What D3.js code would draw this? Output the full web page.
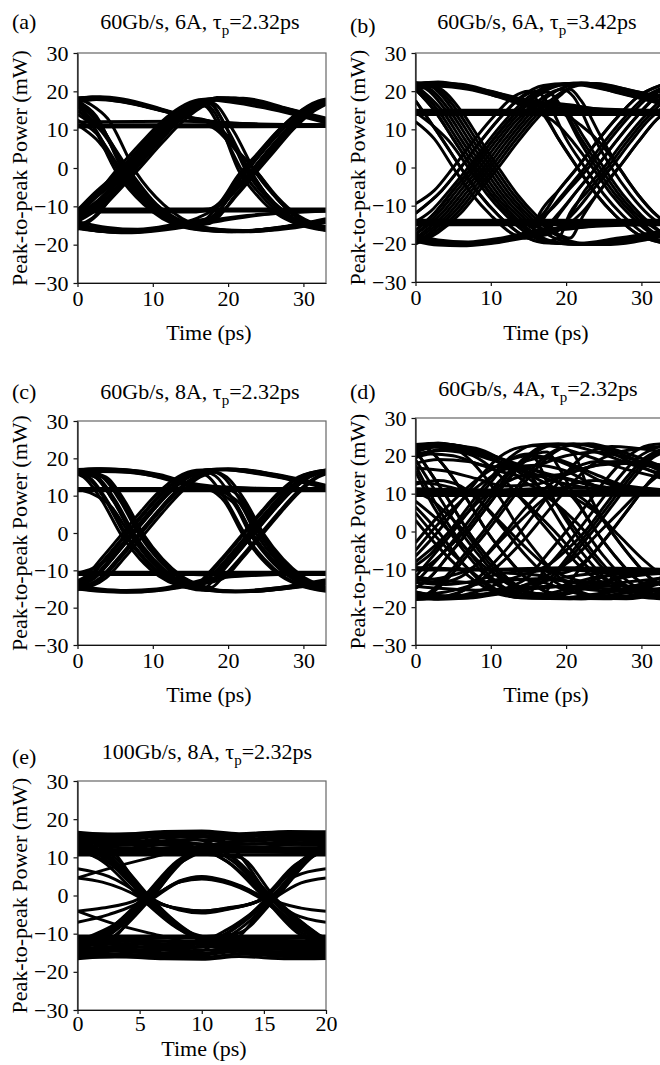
<!DOCTYPE html>
<html>
<head>
<meta charset="utf-8">
<script src="https://cdn.jsdelivr.net/npm/d3@7"></script>
<style>
  body { margin: 0; background: #fff; }
  svg { display: block; }
</style>
</head>
<body>
<script>
// eye-diagram traces, [time (ps), power (mW)] keypoints
const tracesA = [
  [[0, 11.3], [33, 11.3]],
  [[0, 10.7], [33, 10.8]],
  [[0, -10.7], [33, -10.7]],
  [[0, -11.3], [33, -11.2]],
  [[0, 17.9], [2, 18.4], [5, 17.8], [10, 15.6], [15, 13], [20, 11.8], [26, 11.3], [33, 11.1]],
  [[0, 17.2], [2.5, 17.9], [6, 17.3], [11, 15.1], [16, 12.5], [22, 11.4], [33, 11]],
  [[0, 18.3], [3, 18.6], [6, 18], [11, 15.5], [15, 13.2], [19, 11.8], [25, 11.2], [33, 11.2]],
  [[0, 17.6], [2.5, 18.2], [6, 17.6], [10.5, 15.6], [14.5, 13.3], [18, 12], [24, 11.5], [33, 11.3]],
  [[0, 18.1], [2, 18.5], [5, 18], [10, 15.8], [15, 13.2], [17.5, 12.2], [20, 8.2], [22.8, -0.5], [25, -6.7], [27.5, -11.5], [30, -14.5], [33, -16]],
  [[0, 17.5], [2.5, 18], [6, 17.2], [11, 15], [15.5, 12.8], [18.5, 11], [21, 5], [24, -1.5], [26.5, -8], [29, -12.5], [33, -15.5]],
  [[0, -12.7], [2.5, -9], [6.4, -1], [10, 6.9], [12.5, 12], [15, 15.8], [17.5, 18], [20, 18.1], [25, 16.3], [30, 13.6], [33, 12.3]],
  [[0, -14], [3.5, -9.5], [7.4, -1], [11, 7], [13.5, 12.2], [16, 15.8], [18.5, 18.4], [25, 16.7], [33, 12.7]],
  [[0, -11], [2, -7], [5.4, -1], [9, 7], [11.5, 12.2], [14, 15.5], [16.8, 17.8], [24, 16], [33, 11.8]],
  [[0, -12.5], [1.5, -9.5], [5, -1], [8.6, 6.9], [11.1, 12], [13.6, 15.8], [16.1, 17.8], [19, 18.2], [25, 16.2], [33, 12]],
  [[0, -15], [2, -13], [4, -9], [7.8, -1], [11.4, 6.9], [13.9, 12], [16.4, 15.8], [18.9, 18], [22, 18.2], [28, 15.5], [33, 13]],
  [[0, -16], [2.5, -12.5], [6.8, -1], [10.4, 6.9], [12.9, 12], [15.4, 15.8], [17.9, 18], [21, 18.2], [27, 15.8], [33, 12.5]],
  [[0, -13], [2.5, -9.5], [6.2, -1], [9.8, 6.9], [12.3, 12], [14.8, 15.8], [17.3, 17.8], [20, 18.3], [26, 16.2], [33, 12.4]],
  [[0, -13.8], [2.8, -10], [6.9, -1], [10.5, 6.9], [13, 12], [15.5, 15.8], [18, 17.8], [21, 18.2], [27, 15.8], [33, 12.6]],
  [[0, -12.5], [2.5, -8.8], [6.4, -1], [10, 6.9], [12.5, 12], [15, 15.8], [17.5, 16.8], [20, 9.8], [22.8, -0.8], [25, -6.7], [27.5, -11.5], [30, -14.5], [33, -16]],
  [[0, -13.5], [3.3, -8.8], [7.2, -1], [10.8, 7], [13.3, 12.2], [16, 16.5], [17.8, 17], [20.8, 9.4], [23.6, -1], [26, -7], [28.5, -12], [33, -15.8]],
  [[0, -11.5], [2, -7.5], [5.7, -1.3], [9.3, 6.6], [11.8, 11.8], [14.5, 15.5], [16.8, 16.2], [19.3, 9], [22, -1.2], [24.4, -7.2], [27, -12], [33, -16.2]],
  [[0, -12], [2, -8.5], [5.8, -1], [9.4, 7], [11.9, 12.2], [14.4, 15.8], [16.5, 17.5], [18.2, 14.5], [21.5, -1], [24, -7.5], [26.5, -12], [29, -14.5], [33, -16.3]],
  [[0, -13], [2.5, -9.5], [6.6, -1], [10.2, 6.9], [12.7, 12], [15.2, 15.8], [17.2, 17.5], [19.5, 11.5], [22.4, -0.8], [24.8, -7], [27.3, -11.8], [30, -14.7], [33, -16.2]],
  [[0, 17], [2.5, 12.9], [6.4, -1.2], [10, -9.5], [12.5, -13.2], [15, -15.3], [17.5, -16.2], [21, -16.6], [25, -16.3], [30, -14.7], [33, -13.8]],
  [[0, 16], [3, 10.5], [7.2, -1.5], [10.5, -9.5], [13, -13], [16, -15.2], [22, -16.4], [27, -15.4], [33, -13.2]],
  [[0, 15], [1.5, 12.5], [5.2, -1.2], [8.8, -9.5], [11.3, -13.2], [13.8, -15.3], [16.3, -16.2], [20, -16.6], [25, -16], [33, -13.5]],
  [[0, 18.2], [1.8, 16.5], [4, 12.9], [7.8, -1.2], [11.4, -9.5], [13.9, -13.2], [16.4, -15.3], [19, -16.2], [23, -16.6], [28, -15.8], [33, -14.2]],
  [[0, 12.5], [2.5, 9], [6, -1.2], [9.6, -9.5], [12.1, -13.2], [14.6, -15.3], [17.1, -16.2], [21, -16.5], [33, -13.5]],
  [[0, 16.5], [2.5, 12.5], [6.8, -1.2], [10.4, -9.5], [12.9, -13.2], [15.4, -15.3], [18, -16.2], [22, -16.6], [27, -15.8], [33, -13.8]],
  [[0, 14], [2, 11], [5.6, -1.2], [9.2, -9.5], [11.7, -13.2], [14.2, -15.3], [16.7, -16.2], [20.5, -16.6], [26, -15.8], [33, -13.5]],
  [[0, 17.3], [2.5, 13], [6.4, -1.2], [10, -9.5], [12.5, -13.2], [15, -15], [17.5, -14.5], [20, -8], [22.8, -1.5], [25, 3.8], [27.5, 9.4], [30, 14], [33, 17.6]],
  [[0, 15], [3.2, 9.5], [6.9, -1.5], [10.5, -9.8], [13, -13.2], [16, -14.8], [18.3, -13.5], [21, -7], [23.6, -1], [26, 4.5], [28.5, 10], [31, 14.5], [33, 16.8]],
  [[0, 17.5], [2.5, 13.5], [6, -0.5], [9.5, -9], [12, -12.8], [14.5, -14.5], [16.5, -14], [19, -9], [21.8, -1.5], [24, 3.8], [26.5, 9.4], [29, 14], [32, 17.5], [33, 18]],
  [[0, 11.3], [2.5, 7.5], [5.8, -1], [9, -8.5], [12.5, -13], [15, -14.8], [17.5, -15.8], [22, -16.3], [27, -15.5], [33, -13.5]],
  [[0, -10.8], [2.5, -7.6], [6, -1.4], [9.5, 6.5], [12.5, 12.6], [15, 16], [17.8, 17.8], [23, 17], [28, 14.8], [33, 12.3]],
  [[0, 11], [14, 11], [17.5, 10.8], [20, 7], [22.8, -0.3], [25, -6.7], [27.5, -11.5], [30, -14.5], [33, -16]],
  [[0, 12], [14, 12.2], [17, 12], [20.5, 6], [23.8, -1], [26.5, -7.5], [29, -12], [31.5, -14.5], [33, -15.3]],
  [[0, -11], [15, -11], [17.5, -10.7], [20, -7], [22.8, -1.4], [25, 3.8], [27.5, 9.4], [30, 14], [33, 17.2]],
  [[0, -11.5], [15, -11.5], [18, -10.5], [21.5, -1.5], [24, 4], [26.5, 9.5], [29, 14], [33, 17.8]],
  [[0, -15], [2.5, -16.2], [6, -16.7], [10, -16.2], [12.5, -15.5], [15, -14.6], [17.5, -13.7], [22.5, -12.4], [27.5, -11.6], [33, -11.1]],
  [[0, -15.8], [3, -16.5], [6.5, -16.9], [10, -16.5], [13, -15.8], [16, -14.8], [19, -13.8], [24, -12.3], [33, -11.3]],
  [[0, -15.3], [2.5, -16.4], [6, -16.8], [10, -16.3], [12.5, -15.6], [15, -14.7], [17.5, -13.7], [20, -8], [22.8, -1.5], [25, 3.8], [27.5, 9.4], [30, 14], [33, 17.6]],
  [[0, -14.5], [3, -15.8], [7, -16.3], [11, -15.6], [15, -14], [18.5, -12.5], [21.3, -6.8], [23.8, -1], [26.2, 4.5], [28.6, 10], [31, 14.3], [33, 16.6]],
  [[0, -14], [4, -15.5], [8, -16], [12, -15], [16, -13], [19, -9.5], [22, -2], [24.5, 4], [27, 9.5], [29.5, 14], [33, 17.8]],
  [[0, -15.6], [3, -16.5], [7, -16.8], [11, -16], [15, -14.5], [17.8, -12.8], [20.5, -7], [23.2, -1.2], [25.5, 4], [28, 9.6], [30.5, 14.2], [33, 17.3]]
];

const tracesB = [
  [[0, 15], [33, 15]],
  [[0, 14.4], [33, 14.4]],
  [[0, 13.9], [33, 13.9]],
  [[0, -13.8], [33, -13.8]],
  [[0, -14.4], [33, -14.4]],
  [[0, -15], [33, -15]],
  [[0, 21.8], [2.5, 22.3], [6, 21.5], [11, 19.4], [14, 17.7], [18, 16], [24, 15], [33, 14.6]],
  [[0, 20.5], [3, 21.3], [7, 20.5], [11, 18.6], [15, 16.5], [20, 15.2], [26, 14.8], [33, 14.7]],
  [[0, 21.6], [2, 22.2], [6, 21.8], [10, 20], [14, 18], [18, 16.6], [24, 15.4], [33, 14.9]],
  [[0, 22], [3, 22.4], [7, 21.2], [11, 19.2], [14, 17.5], [16.5, 16.5], [19.5, 15], [22, 7.5], [24.5, 0], [27, -7], [29.5, -12.5], [33, -17.5]],
  [[0, 21.3], [3, 21.8], [7, 20.8], [11, 18.5], [14, 16.5], [16.5, 14.8], [19, 7.5], [21.5, 0], [24, -7], [26.5, -12.5], [29.5, -17.5], [33, -19.8]],
  [[0, -16.5], [2.5, -12], [5, -6], [7.5, 0], [10, 6.5], [12.5, 12.5], [15.5, 18.5], [18.5, 21.5], [21, 22.1], [25, 21], [29, 19], [33, 17]],
  [[0, -12], [3.5, -6], [6, 0], [8.5, 6.5], [11, 12.5], [14, 18.5], [17, 21.5], [20, 22], [25, 20.5], [33, 16.5]],
  [[0, -19], [1.5, -17], [4.5, -12], [7, -6], [9.5, 0], [12, 6.5], [14.5, 12.5], [17.5, 18.5], [20.5, 21.5], [23, 22], [28, 20.5], [33, 18]],
  [[0, -19.8], [2.5, -17], [5.5, -12], [8, -6], [10.5, 0], [13, 6.5], [15.5, 12.5], [18.5, 18.5], [21.5, 21.5], [24, 22], [29, 20], [33, 18.5]],
  [[0, -17.5], [3, -12], [5.5, -6], [8, 0], [10.5, 6.5], [13, 12.5], [16, 18.5], [19, 21.5], [22, 22.2], [27, 20.6], [33, 17.3]],
  [[0, -17.5], [3.5, -12], [6, -6], [8.5, 0], [11, 6.5], [13.5, 12.5], [16.5, 17], [20, 16.5], [25, 15.2], [33, 14.6]],
  [[0, -16.5], [2.5, -12], [5, -6], [7.5, 0], [10, 6.5], [12.5, 12.5], [15, 17.5], [17.5, 19.8], [19.5, 15.5], [21.5, 8], [24, 0], [26.5, -7], [29, -12.5], [32, -17.5], [33, -18.2]],
  [[0, -12], [3.5, -6], [6, 0], [8.5, 6.5], [11, 12.5], [13.5, 17.5], [16, 20], [18, 15.5], [20, 7.5], [22.5, 0], [25, -7], [27.5, -12.5], [30.5, -17.5], [33, -19.5]],
  [[0, -18.5], [1, -17], [4, -12], [6.5, -6], [9, 0], [11.5, 6.5], [14, 12.5], [17, 18.5], [19.5, 20.5], [21, 18.5], [23.5, 8.5], [26, 0], [28.5, -7], [31, -12.5], [33, -15.5]],
  [[0, -9.5], [2.5, -6], [5, 0], [7.5, 6.5], [10, 12.5], [13, 18.5], [15, 20], [17, 14.5], [19, 7.5], [21.5, 0], [24, -7], [26.5, -12.5], [29.5, -17.5], [33, -19.8]],
  [[0, -20], [3, -17], [6, -12], [8.5, -6], [11, 0], [13.5, 6.5], [16, 12.5], [19, 18.5], [20.5, 20.5], [22, 17.5], [24.5, 8.5], [27, 0], [29.5, -7], [32, -12.5], [33, -14.2]],
  [[0, -20], [2, -17], [5, -12], [7.5, -6], [10, 0], [12.5, 6.5], [15, 12.5], [18, 17.5], [20, 15], [22.5, 7.5], [25, 0], [27.5, -7], [30, -12.5], [33, -17.5]],
  [[0, 20.5], [2.5, 15], [5, 7.5], [7.5, 0], [10, -7], [12.5, -12.5], [15.5, -17.5], [18.5, -19.7], [22, -20.2], [26, -19.5], [30, -18], [33, -17]],
  [[0, 17.5], [3.5, 7.5], [6, 0], [8.5, -7], [11, -12.5], [14, -17.5], [17, -19.7], [21, -20], [27, -18.5], [33, -16.5]],
  [[0, 21.5], [1.5, 21], [4.5, 15], [7, 7.5], [9.5, 0], [12, -7], [14.5, -12.5], [17.5, -17.5], [20.5, -19.7], [24, -20.2], [29, -19], [33, -17.5]],
  [[0, 22], [2.5, 21], [5.5, 15], [8, 7.5], [10.5, 0], [13, -7], [15.5, -12.5], [18.5, -17.5], [21.5, -19.7], [25, -20.2], [33, -18]],
  [[0, 21], [3, 15], [5.5, 7.5], [8, 0], [10.5, -7], [13, -12.5], [16, -17.5], [19, -19.7], [23, -20.2], [28, -19.2], [33, -17.3]],
  [[0, 21.5], [3.5, 15], [6, 7.5], [8.5, 0], [11, -7], [13.5, -12.5], [16.5, -16.5], [20, -16.2], [25, -15], [33, -14.5]],
  [[0, 20.5], [2.5, 15], [5, 7.5], [7.5, 0], [10, -7], [12.5, -12.5], [15, -16.5], [17, -17.5], [19, -12.5], [21.5, -6], [24, 0], [26.5, 6.5], [29, 12.5], [32, 18.5], [33, 19.5]],
  [[0, 17.5], [3.5, 7.5], [6, 0], [8.5, -7], [11, -12.5], [14, -17.5], [17, -19.5], [19, -18.5], [20.5, -12], [23, -6], [25.5, 0], [28, 6.5], [30.5, 12.5], [33, 17.5]],
  [[0, 21.3], [1, 21], [4, 15], [6.5, 7.5], [9, 0], [11.5, -7], [14, -12.5], [16, -15.5], [17.5, -12], [20, -6], [22.5, 0], [25, 6.5], [27.5, 12.5], [30.5, 18.5], [33, 21]],
  [[0, 12], [2.5, 7.5], [5, 0], [7.5, -7], [10, -12.5], [13, -17.5], [15, -18.5], [16.5, -12], [19, -6], [21.5, 0], [24, 6.5], [26.5, 12.5], [29.5, 18.5], [33, 21.8]],
  [[0, 22.3], [3, 21], [6, 15], [8.5, 7.5], [11, 0], [13.5, -7], [16, -12.5], [19, -17.5], [20.5, -18.5], [22.3, -12.5], [24.5, -6], [27, 0], [29.5, 6.5], [32, 12.5], [33, 14.3]],
  [[0, 22], [2, 21.3], [5, 15], [7.5, 7.5], [10, 0], [12.5, -7], [15, -12.5], [18, -17], [20, -14], [22.5, -6], [25, 0], [27.5, 6.5], [30, 12.5], [33, 18.5]],
  [[0, -18.5], [3, -19.8], [6, -20.2], [10, -19.6], [14, -18], [18, -16.2], [24, -15], [33, -14.6]],
  [[0, -17.5], [3, -19], [7, -19.5], [11, -18.6], [15, -17], [20, -15.6], [26, -15], [33, -14.8]],
  [[0, -18.2], [2.5, -19.2], [6, -19.8], [10, -19.3], [14, -17.8], [18, -16.5], [24, -15.4], [33, -14.9]],
  [[0, -18.8], [3, -20], [6, -20.3], [10, -19.7], [14, -18.3], [16.5, -17], [19, -12], [21.5, -6], [24, 0], [26.5, 6.5], [29, 12.5], [32, 18.5], [33, 19.5]],
  [[0, -18], [3.5, -19.5], [7, -19.8], [11, -19], [15, -17.5], [18.5, -16.2], [21, -12], [23.5, -6], [26, 0], [28.5, 6.5], [31, 12.5], [33, 16]],
  [[0, -19.3], [3, -20.3], [6, -20.5], [10, -19.9], [14, -18.6], [18, -17.3], [22, -12], [24.5, -6], [27, 0], [29.5, 6.5], [32, 12.5], [33, 14.3]],
  [[0, 14.4], [13, 14.4], [16, 14.2], [19, 11], [21, 6.5], [23.5, 0], [26, -7], [28.5, -12.5], [31.5, -17.5], [33, -18.5]],
  [[0, 14.6], [17, 14.6], [19.5, 14], [22, 11], [24.5, 6.5], [27, 0], [29.5, -7], [32, -12.5], [33, -14]],
  [[0, -14.4], [13, -14.4], [16, -14], [18, -11], [20.5, -5.5], [23, 0], [25.5, 6.5], [28, 12.5], [31, 18.5], [33, 20.3]],
  [[0, -14.6], [13, -14.6], [15.5, -14], [17, -12], [19, -6], [21.5, 0], [24, 6.5], [26.5, 12.5], [29.5, 18.5], [33, 21.8]],
  [[0, -14.2], [2, -11.5], [4.5, -6], [7, 0], [9.5, 6.5], [12, 12.5], [15, 18.5], [18, 21.5], [22, 21.8], [27, 19.5], [33, 16.5]],
  [[0, 14.5], [2, 11.5], [4.5, 6.8], [7, 0], [9.5, -7], [12, -12.5], [15, -17.5], [18, -19.7], [23, -20], [28, -18.5], [33, -16.8]]
];

const tracesC = [
  [[0, 11.9], [33, 11.9]],
  [[0, 11.3], [33, 11.3]],
  [[0, -10.5], [33, -10.5]],
  [[0, -11.1], [33, -11.1]],
  [[0, 16.5], [2.5, 17], [6, 16.7], [11, 15.2], [14, 13.4], [18, 12.3], [24, 11.9], [33, 11.7]],
  [[0, 15.8], [3, 16.5], [7, 16.2], [12, 14.5], [16, 12.6], [22, 11.8], [33, 11.6]],
  [[0, 16.9], [2.5, 17.2], [6, 17], [11, 15.6], [14.5, 13.6], [18, 12.5], [24, 12], [33, 11.8]],
  [[0, 16.8], [3, 17.1], [6.5, 16.8], [11, 15.2], [14, 13.5], [17, 12.5], [19, 11.8], [20.8, 8.5], [23.3, -0.5], [25.8, -7], [28.3, -11.5], [30.8, -14], [33, -15.2]],
  [[0, 16.3], [3, 16.7], [6.5, 16.4], [11, 14.8], [14, 13], [16.5, 12.2], [17.5, 11.7], [19.5, 8.5], [22, -0.5], [24.5, -7], [27, -11.5], [29.5, -14], [33, -15.6]],
  [[0, 17], [3, 17.2], [7, 16.8], [12, 14.8], [15, 13], [18, 12.2], [20, 11.8], [22, 8.5], [24.5, -0.5], [27, -7], [29.5, -11.5], [32, -14], [33, -14.5]],
  [[0, -14.3], [2.3, -12], [4.8, -6.5], [7.3, -0.5], [9.8, 5.5], [12.3, 11], [14.8, 15], [17.3, 16.8], [20, 17.1], [24, 16.3], [28, 14.5], [33, 12.5]],
  [[0, -13.2], [1.3, -12], [3.8, -6.5], [6.3, -0.5], [8.8, 5.5], [11.3, 11], [13.8, 15], [16.3, 16.7], [19, 17], [24, 16], [33, 12.2]],
  [[0, -15], [3.3, -12], [5.8, -6.5], [8.3, -0.5], [10.8, 5.5], [13.3, 11], [15.8, 15], [18.3, 16.8], [21, 17.1], [26, 15.8], [33, 12.8]],
  [[0, -12.8], [0.8, -12], [3.3, -6.5], [5.8, -0.5], [8.3, 5.5], [10.8, 11], [13.3, 15], [15.8, 16.8], [19, 17], [25, 15.5], [33, 12]],
  [[0, -14], [2, -12], [4.5, -6.5], [7, -0.5], [9.5, 5.5], [12, 11], [14.5, 15], [17, 16.9], [20, 17.2], [25, 16], [33, 12.3]],
  [[0, -14.3], [2.3, -12], [4.8, -6.5], [7.3, -0.5], [9.8, 5.5], [12.3, 11], [14.8, 15], [17, 16.3], [18.3, 15.3], [20.8, 8.5], [23.3, -0.5], [25.8, -7], [28.3, -11.5], [30.8, -14], [33, -15.2]],
  [[0, -13.5], [1.5, -12], [4, -6.5], [6.5, -0.5], [9, 5.5], [11.5, 11], [14, 15], [16, 16.3], [17.3, 15.2], [19.8, 8.5], [22.3, -0.5], [24.8, -7], [27.3, -11.5], [29.8, -14], [33, -15.5]],
  [[0, -14.8], [3, -12], [5.5, -6.5], [8, -0.5], [10.5, 5.5], [13, 11], [15.5, 15], [17.8, 16.5], [19.2, 15.3], [21.7, 8.5], [24.2, -0.5], [26.7, -7], [29.2, -11.5], [31.7, -14], [33, -14.7]],
  [[0, -15.2], [3.8, -12], [6.3, -6.5], [8.8, -0.5], [11.3, 5.5], [13.8, 11], [16.3, 15], [18.3, 16.3], [19.8, 15], [22.3, 8.5], [24.8, -0.5], [27.3, -7], [29.8, -11.5], [32.3, -14], [33, -14.5]],
  [[0, 16.2], [2.3, 15], [4.8, 8.5], [7.3, -0.5], [9.8, -7], [12.3, -11.5], [14.8, -14], [17.3, -15.3], [21, -15.7], [25, -15.3], [29, -14], [33, -12.8]],
  [[0, 16], [1.3, 15], [3.8, 8.5], [6.3, -0.5], [8.8, -7], [11.3, -11.5], [13.8, -14], [16.3, -15.3], [20, -15.6], [26, -14.8], [33, -12.5]],
  [[0, 16.8], [3.5, 15], [6, 8.5], [8.5, -0.5], [11, -7], [13.5, -11.5], [16, -14], [18.5, -15.3], [22, -15.7], [27, -15], [33, -13.2]],
  [[0, 17], [3.8, 15], [6.3, 8.5], [8.8, -0.5], [11.3, -7], [13.8, -11.5], [16.3, -14], [18.8, -15.3], [23, -15.7], [28, -14.8], [33, -13.5]],
  [[0, 16.4], [2.6, 15], [5.1, 8.5], [7.6, -0.5], [10.1, -7], [12.6, -11.5], [15.1, -14], [17.6, -15.4], [21, -15.8], [26, -15.2], [33, -13]],
  [[0, 16.2], [2.3, 15], [4.8, 8.5], [7.3, -0.5], [9.8, -7], [12.3, -11.5], [14.8, -14], [16.8, -14.8], [18.3, -12], [20.8, -6.5], [23.3, -0.5], [25.8, 5.5], [28.3, 11], [30.8, 15], [33, 16.5]],
  [[0, 16], [1.5, 15], [4, 8.5], [6.5, -0.5], [9, -7], [11.5, -11.5], [14, -14], [16, -14.6], [17.5, -12], [20, -6.5], [22.5, -0.5], [25, 5.5], [27.5, 11], [30, 15], [33, 16.8]],
  [[0, 16.6], [3.2, 15], [5.7, 8.5], [8.2, -0.5], [10.7, -7], [13.2, -11.5], [15.7, -14], [17.7, -14.6], [19.2, -12], [21.7, -6.5], [24.2, -0.5], [26.7, 5.5], [29.2, 11], [31.7, 15], [33, 16]],
  [[0, 15.8], [0.8, 15], [3.3, 8.5], [5.8, -0.5], [8.3, -7], [10.8, -11.5], [13.3, -14], [15.3, -14.8], [16.8, -12], [19.3, -6.5], [21.8, -0.5], [24.3, 5.5], [26.8, 11], [29.3, 15], [33, 16.8]],
  [[0, -14.5], [3, -15.3], [6.5, -15.6], [10.5, -15.2], [14, -14], [18, -12.3], [24, -11.3], [33, -10.9]],
  [[0, -14.2], [3, -15], [6.5, -15.4], [10.5, -15], [14, -13.8], [18, -12], [24, -11.2], [33, -10.8]],
  [[0, -14.8], [3, -15.5], [6.5, -15.8], [10.5, -15.4], [14, -14.3], [16.3, -13.5], [18.3, -12], [20.8, -6.5], [23.3, -0.5], [25.8, 5.5], [28.3, 11], [30.8, 15], [33, 16.5]],
  [[0, -14.6], [3, -15.4], [6.5, -15.7], [10.5, -15.3], [14, -14.2], [16, -13.4], [17, -12], [19.5, -6.5], [22, -0.5], [24.5, 5.5], [27, 11], [29.5, 15], [33, 16.9]],
  [[0, -15], [3, -15.6], [6.5, -15.9], [10.5, -15.5], [14, -14.5], [17.5, -13.3], [19.5, -12], [22, -6.5], [24.5, -0.5], [27, 5.5], [29.5, 11], [32, 15], [33, 15.8]],
  [[0, 11.6], [14, 11.6], [17, 11.5], [20.5, 8.5], [23, -0.5], [25.5, -7], [28, -11.5], [30.5, -14], [33, -15.2]],
  [[0, 11.5], [15, 11.5], [18, 11.4], [21.3, 8.5], [23.8, -0.5], [26.3, -7], [28.8, -11.5], [31.3, -14], [33, -14.8]],
  [[0, -10.8], [14, -10.8], [17.5, -11], [20.5, -6.5], [23, -0.5], [25.5, 5.5], [28, 11], [30.5, 15], [33, 16.7]],
  [[0, -11], [14, -11], [16.8, -11.2], [18.8, -10], [20.3, -6.5], [22.8, -0.5], [25.3, 5.5], [27.8, 11], [30.3, 15], [33, 16.8]],
  [[0, 11.7], [2, 10.5], [4.5, 7], [7, -0.5], [9.5, -7], [12, -11.5], [14.5, -14], [17, -15.3], [21, -15.6], [27, -14.6], [33, -12.8]],
  [[0, -10.8], [2, -9.5], [4.5, -6], [7, -0.5], [9.5, 5.5], [12, 11], [14.5, 15], [17, 16.8], [21, 17], [27, 15.3], [33, 12.5]]
];

const tracesD = [
  [[0, 10.8], [33, 10.6]],
  [[0, 10], [33, 10.1]],
  [[0, 9.5], [33, 9.6]],
  [[0, 11.3], [10, 11], [20, 11.5], [33, 11]],
  [[0, -10], [33, -10.2]],
  [[0, -9.5], [10, -10], [20, -9.6], [33, -10]],
  [[0, -12], [8, -13.5], [16, -12.5], [24, -13.8], [33, -12.2]],
  [[0, -14.5], [8, -15.5], [18, -14.5], [26, -15.8], [33, -15]],
  [[0, -13.5], [4, -14], [8, -13], [12, -11], [16, -11.5], [20, -13], [24, -14.5], [28, -14.5], [33, -13]],
  [[0, 22.5], [3, 23.3], [7, 22], [11, 19.5], [14, 17.5], [18, 15], [24, 12], [33, 10.5]],
  [[0, 21], [2.5, 22.3], [6, 21.5], [10, 19], [14, 16.5], [19, 13], [25, 11], [33, 10.2]],
  [[0, 22], [4, 23], [8, 21.5], [12, 17], [15, 12.5], [18, 10.5], [22, 10.8], [27, 10.3], [33, 10]],
  [[0, 19.5], [2, 20.5], [5, 20], [9, 17.5], [13, 16.8], [16, 17.5], [20, 20], [24, 21], [29, 19], [33, 17]],
  [[0, 16.8], [4, 16], [8, 14], [12, 12], [16, 12.5], [20, 15], [24, 17.5], [28, 18], [33, 16.5]],
  [[0, 18], [3, 19], [7, 18.5], [11, 16], [15, 14.5], [19, 15], [23, 17], [27, 18.5], [33, 17.5]],
  [[0, 23], [3, 23.3], [7, 22], [11, 19.5], [14, 17], [16, 16], [19, 13], [21.5, 7.5], [24, 0], [26.5, -6.5], [29, -12], [33, -16.5]],
  [[0, 22], [3, 22.8], [7, 21.5], [11, 18.5], [13.5, 16], [16, 12.5], [19, 6.5], [21.5, 0], [24, -6.5], [26.5, -12], [29.5, -16], [33, -17.6]],
  [[0, 21.5], [4, 22.8], [8, 22], [12, 18.5], [15, 15.5], [17.5, 8], [20, 0], [22.5, -6.5], [25, -12], [28, -16], [31, -17.6], [33, -17.8]],
  [[0, 20], [3, 21.5], [7, 20.5], [10, 17], [13, 11], [16, 4], [19, -3], [22, -9.5], [26, -14.5], [33, -17]],
  [[0, 22.8], [3, 23], [6, 21], [9, 15], [11.5, 8], [14, 0], [16.5, -6.5], [19, -12], [22, -16], [26, -17.5], [33, -16.5]],
  [[0, 20.5], [4, 21.5], [9, 20], [14, 16], [18, 12], [21, 9], [24, 5], [27, -1], [30, -7], [33, -12]],
  [[0, -15], [2, -12], [4.5, -6], [7, 0], [9.5, 6.5], [12, 13], [15, 19.5], [18, 22.8], [21, 23.2], [25, 21.5], [29, 18], [33, 14.5]],
  [[0, -9], [2, -6], [4.5, 0], [7, 6.5], [9.5, 13], [12.5, 19.5], [15.5, 22.8], [19, 23.2], [24, 21], [29, 17.5], [33, 15]],
  [[0, -17.5], [1.5, -17], [4.5, -12], [7, -6], [9.5, 0], [12, 6.5], [14.5, 13], [17.5, 19.5], [20.5, 22.8], [23, 23.2], [27.5, 21], [33, 17]],
  [[0, -6.5], [3, 0], [5.5, 6.5], [8, 13], [11, 19.5], [14, 22.3], [17, 22.8], [22, 20.5], [27, 17], [33, 14]],
  [[0, -3], [3, 4], [6, 10], [9, 15], [12, 18.5], [15, 20], [19, 19], [24, 15], [28, 12], [33, 10.8]],
  [[0, -13.5], [3.5, -6], [6, 0], [8.5, 6.5], [11, 13], [14, 18], [17, 19.5], [21, 17], [25, 13], [29, 11], [33, 10.3]],
  [[0, -5], [3, 2], [6, 8], [9, 13], [12, 16.5], [16, 17.5], [20, 16], [24, 12], [28, 10.5], [33, 10.2]],
  [[0, -8], [3, -3], [6, 3], [9, 9], [12, 13], [15, 15], [19, 14.5], [24, 12], [33, 10.5]],
  [[0, -13], [4, -12], [8, -9], [11, -3], [14, 3], [17, 8.5], [20, 12], [24, 13.5], [28, 12], [33, 11]],
  [[0, -18], [3, -17.5], [7, -15], [11, -9], [14.5, -2], [17, 4], [20, 11], [23, 17], [27, 21], [33, 22.5]],
  [[0, -17.5], [3, -17.8], [6, -16], [9, -11], [11.5, -6], [14, 0], [16.5, 6.5], [19, 13], [22, 19.5], [26, 22.5], [33, 21]],
  [[0, -16], [4, -17], [9, -16.5], [14, -14.5], [18, -11], [21, -7], [24, -1], [27, 5], [30, 11], [33, 16]],
  [[0, -15], [2, -12], [4.5, -6], [7, 0], [9.5, 6.5], [12, 13], [15, 19.5], [17.5, 21], [19, 17], [21.5, 8], [24, 0], [26.5, -6.5], [29, -12], [32, -16], [33, -16.5]],
  [[0, -12], [2.5, -6], [5, 0], [7.5, 6.5], [10, 13], [13, 19.5], [15, 20.5], [16, 19], [18.5, 8], [21, 0], [23.5, -6.5], [26, -12], [29, -16], [33, -17.7]],
  [[0, -17.2], [1, -17], [4, -12], [6.5, -6], [9, 0], [11.5, 6.5], [14, 13], [17, 19.5], [19.5, 22], [21, 20.5], [23.5, 8], [26, 0], [28.5, -6.5], [31, -12], [33, -14.5]],
  [[0, -12.5], [3, -13.5], [6, -12], [9, -7], [12, 0], [14.5, 6], [17, 11], [20, 15.5], [24, 18.5], [30, 18], [33, 16.5]],
  [[0, 21.5], [2, 15.5], [4.5, 8], [7, 0], [9.5, -6.5], [12, -12], [15, -16], [18, -17.6], [22, -17.8], [27, -16.5], [33, -13.5]],
  [[0, 16], [2, 8], [4.5, 0], [7, -6.5], [9.5, -12], [12.5, -16], [15.5, -17.6], [20, -17.8], [26, -16], [33, -12]],
  [[0, 23], [1.5, 22], [4.5, 15.5], [7, 8], [9.5, 0], [12, -6.5], [14.5, -12], [17.5, -16], [20.5, -17.6], [25, -17.8], [30, -16.5], [33, -15]],
  [[0, 6.5], [3, 0], [5.5, -6.5], [8, -12], [11, -16], [14, -17.5], [18, -17.7], [24, -16.5], [33, -13.5]],
  [[0, 3], [3, -4], [6, -10], [9, -14.5], [12, -17], [15, -17.5], [19, -17], [24, -14], [28, -11.5], [33, -10.8]],
  [[0, 19], [3.5, 8], [6, 0], [8.5, -6.5], [11, -12], [14, -15.5], [17, -16.5], [21, -14.5], [25, -12], [29, -10.5], [33, -10.2]],
  [[0, 5], [3, -2], [6, -8], [9, -13], [12, -16.5], [16, -17.2], [20, -16], [24, -12.5], [28, -10.8], [33, -10.2]],
  [[0, 8], [3, 3], [6, -3], [9, -9], [12, -13], [15, -15], [19, -14.5], [24, -12], [33, -10.5]],
  [[0, 13], [4, 12], [8, 9], [11, 3], [14, -3], [17, -8.5], [20, -12], [24, -13.5], [28, -12], [33, -11]],
  [[0, 12.5], [3, 13.5], [6, 12], [9, 7], [12, 0], [14.5, -6], [17, -11], [20, -15], [24, -17], [30, -17], [33, -16]],
  [[0, 21.5], [2, 15.5], [4.5, 8], [7, 0], [9.5, -6.5], [12, -12], [15, -16], [17, -16.5], [18.5, -12], [21, -6], [23.5, 0], [26, 6.5], [28.5, 13], [31.5, 19.5], [33, 21]],
  [[0, 17.5], [2.5, 8], [5, 0], [7.5, -6.5], [10, -12], [13, -16], [15, -16.5], [16.5, -12], [19, -6], [21.5, 0], [24, 6.5], [26.5, 13], [29.5, 19.5], [33, 22.8]],
  [[0, 23], [1.5, 22], [4.5, 15.5], [7, 8], [9.5, 0], [12, -6.5], [14.5, -12], [17.5, -16], [19.5, -16.5], [21, -12], [23.5, -6], [26, 0], [28.5, 6.5], [31, 13], [33, 17]],
  [[0, -17], [3, -17.8], [7, -17.5], [11, -16], [15, -14], [20, -12], [26, -10.7], [33, -10.2]],
  [[0, -17.8], [4, -17.5], [8, -16], [12, -13], [15, -11], [19, -10], [24, -10.5], [33, -10.3]],
  [[0, -16], [4, -17.3], [9, -16.8], [14, -15.5], [20, -14.5], [27, -15.5], [33, -16.8]],
  [[0, -16.8], [4, -16], [8, -14], [12, -12.5], [16, -13], [20, -15.5], [24, -17.5], [28, -17.8], [33, -16]],
  [[0, -17.3], [3, -17.9], [7, -17.6], [11, -16.5], [15, -15], [18, -12], [20.5, -6], [23, 0], [25.5, 6.5], [28, 13], [31, 19.5], [33, 21.5]],
  [[0, -16.5], [4, -17.5], [8, -17], [12, -15], [15, -12], [17.5, -6], [20, 0], [22.5, 6.5], [25, 13], [28, 19.5], [31, 22.8], [33, 23.2]],
  [[0, 10.3], [12, 10.3], [15, 10.5], [17.5, 9], [20, 5], [22.5, 0], [25, -6.5], [27.5, -12], [30.5, -16], [33, -17.2]],
  [[0, 10.3], [16, 10.3], [19, 11], [21, 10], [23.5, 6.5], [26, 0], [28.5, -6.5], [31, -12], [33, -14.5]],
  [[0, -10.2], [12, -10.2], [15, -10.5], [17.5, -9], [20, -5], [22.5, 0], [25, 6.5], [27.5, 13], [30.5, 19.5], [33, 22]],
  [[0, -10], [16, -10.2], [19, -11], [21, -10], [23.5, -6], [26, 0], [28.5, 6.5], [31, 13], [33, 17.5]],
  [[0, 10.2], [2, 8.5], [4, 5], [6.5, 0], [9, -6.5], [11.5, -12], [14.5, -16], [17.5, -17.6], [22, -17.8], [28, -16], [33, -13]],
  [[0, -10.3], [2, -8.5], [4, -5], [6.5, 0], [9, 6.5], [11.5, 13], [14.5, 19.5], [17.5, 22.8], [22, 23], [28, 20], [33, 15.5]],
  [[0, 10.5], [10, 10.5], [13, 10], [16, 5], [18.5, 0], [21, -5.5], [23.5, -10.5], [27, -14], [33, -15.5]]
];

const tracesE = [
  [[0, 16.6], [3, 16], [7, 16.8], [10, 16.9], [13, 16.2], [17, 16.8], [20, 16.7]],
  [[0, 16.4], [3, 15.6], [7, 16.6], [10, 16.8], [13, 15.8], [17, 16.6], [20, 16.5]],
  [[0, 15.8], [3, 15], [7, 16.2], [10, 16.4], [13, 15.2], [17, 16.2], [20, 16]],
  [[0, 15.2], [3, 14.4], [7, 15.6], [10, 15.8], [13, 14.6], [17, 15.6], [20, 15.4]],
  [[0, 14.8], [4, 14], [8, 15.4], [11, 15.2], [14, 14.2], [18, 15.3], [20, 15]],
  [[0, 14.2], [4, 13.3], [8, 14.6], [11, 14.4], [14, 13.4], [18, 14.5], [20, 14.4]],
  [[0, 13.5], [4, 12.5], [8, 13.6], [11, 13.3], [14, 12.6], [18, 13.5], [20, 13.4]],
  [[0, 12.6], [4, 12], [8, 12.6], [11, 12.4], [14, 11.8], [18, 12.5], [20, 12.5]],
  [[0, 12], [4, 11.7], [8, 12], [12, 11.8], [16, 12], [20, 12]],
  [[0, 11.3], [20, 11.3]],
  [[0, 10.6], [20, 10.6]],
  [[0, -16.6], [3, -16], [7, -16.6], [10, -16.7], [13, -16], [17, -16.6], [20, -16.5]],
  [[0, -16], [3, -15.3], [7, -16], [10, -16.2], [13, -15.3], [17, -16], [20, -16]],
  [[0, -15.3], [3, -14.6], [7, -15.4], [10, -15.6], [13, -14.6], [17, -15.4], [20, -15.3]],
  [[0, -14.8], [3, -14], [7, -15], [10, -15.1], [13, -14.2], [17, -15], [20, -14.8]],
  [[0, -14], [4, -13.2], [8, -14.5], [11, -14.3], [14, -13.5], [18, -14.4], [20, -14.2]],
  [[0, -13.4], [4, -12.6], [8, -13.6], [11, -13.4], [14, -12.8], [18, -13.5], [20, -13.4]],
  [[0, -12.8], [4, -12], [8, -12.8], [11, -12.5], [14, -12], [18, -12.8], [20, -12.7]],
  [[0, -12], [4, -11.6], [8, -12], [12, -11.8], [16, -12], [20, -12]],
  [[0, -11.2], [20, -11.2]],
  [[0, -10.6], [20, -10.6]],
  [[0, -14.5], [1.5, -11.2], [5.5, -0.8], [8.7, 10.5], [11, 14.5], [14, 15.5], [17, 16.2], [20, 16]],
  [[0, -12], [2.2, -9.5], [5.2, -0.8], [8, 9], [10.5, 12.5], [14, 13.5], [20, 13.3]],
  [[0, -15.5], [2.8, -11], [6, -0.5], [9.2, 10.8], [12, 11.5], [20, 11]],
  [[0, -13.5], [2, -11], [5.8, -0.8], [9, 10.5], [11.5, 13.5], [15, 14.5], [20, 14.8]],
  [[0, -16], [2.5, -12.5], [5.6, -0.8], [8.8, 10], [11.5, 12.5], [20, 12.5]],
  [[0, 14.5], [2.5, 9.8], [5.5, -0.8], [8.7, -9.4], [11, -13.5], [14, -15], [17, -15.6], [20, -15.5]],
  [[0, 12], [2, 9], [5.2, -1], [8, -8.5], [10.5, -12], [14, -13], [20, -12.8]],
  [[0, 16], [3, 10], [6, -1], [9.3, -10], [12, -11.5], [20, -11]],
  [[0, 13.5], [2.5, 10], [5.8, -0.8], [9, -9.5], [11.5, -13], [15, -14], [20, -14.2]],
  [[0, 16.2], [2.6, 12.5], [5.6, -0.8], [8.8, -10], [11.5, -12.5], [20, -12.5]],
  [[0, -15.5], [5, -15.8], [10, -14.5], [11.5, -11.2], [15.5, -0.8], [18.7, 10.5], [20, 13.5]],
  [[0, -12.5], [6, -12.7], [10, -12], [12.2, -9.5], [15.2, -0.8], [18, 9], [20, 12]],
  [[0, -11], [8, -11], [12.8, -10], [16, -0.5], [19.2, 10.8], [20, 12]],
  [[0, -14], [6, -14.2], [10, -13.5], [12, -11], [15.8, -0.8], [19, 10.5], [20, 12.8]],
  [[0, -16.2], [9, -16], [12.4, -12.5], [15.6, -0.8], [18.8, 10], [20, 12]],
  [[0, 15.5], [5, 16.2], [10, 14.5], [12.5, 9.8], [15.5, -0.8], [18.7, -9.4], [20, -12.5]],
  [[0, 13], [6, 13.3], [10, 12], [12, 9], [15.2, -1], [18, -8.5], [20, -11]],
  [[0, 11], [8, 11], [13, 10], [16, -1], [19.3, -10], [20, -11.5]],
  [[0, 14], [6, 14.2], [10, 13.5], [12.5, 10], [15.8, -0.8], [19, -9.5], [20, -11.8]],
  [[0, 16.2], [9, 16], [12.4, 12.5], [15.6, -0.8], [18.8, -10], [20, -12]],
  [[0, -13], [2, -10], [6, -0.5], [8, 3.3], [10, 4.6], [12, 3.5], [15, -0.8], [18, -9], [20, -12.5]],
  [[0, -14.5], [2.5, -10.5], [6.2, -0.3], [8.2, 3.8], [10, 5], [11.8, 4], [14.8, -0.5], [17.6, -9.5], [20, -14]],
  [[0, -12], [2.5, -8.5], [6.3, -0.3], [8.3, 3.6], [10, 4.3], [11.7, 3.5], [14.6, -0.5], [17.8, -8.5], [20, -12]],
  [[0, -13.5], [2.3, -10], [6.1, -0.4], [8.1, 3.5], [10, 4.8], [11.9, 3.7], [14.9, -0.6], [17.7, -9], [20, -13.2]],
  [[0, 13], [2, 10], [6, -1.5], [8, -3.3], [10, -4.1], [12, -3.3], [14.5, -1.5], [17.5, 8], [20, 12.5]],
  [[0, 15], [2.5, 10.5], [6.2, -1.2], [8.2, -3.8], [10, -4.6], [11.8, -3.8], [14.8, -1], [17.8, 8.5], [20, 14]],
  [[0, 12], [2.5, 8.5], [6.3, -1.5], [8.3, -3.6], [10, -4], [11.7, -3.5], [14.6, -1.5], [17.8, 8], [20, 12]],
  [[0, 13.5], [2.3, 10], [6.1, -1.3], [8.1, -3.5], [10, -4.4], [11.9, -3.6], [14.7, -1.2], [17.7, 8.3], [20, 13.2]],
  [[0, 4.6], [2, 3.5], [5, -0.5], [8, -8], [10, -11.5], [14, -14.5], [20, -15]],
  [[0, 7], [2.5, 5], [5.5, -0.8], [8.5, -9], [11, -13], [20, -14]],
  [[0, -4.1], [2, -3.3], [5, -0.8], [8, 8], [10, 11.5], [14, 14.5], [20, 15]],
  [[0, -7], [2.5, -5], [5.5, -0.8], [8.5, 9], [11, 13], [20, 14]],
  [[0, 4.6], [3, 7.5], [6, 10], [10, 13], [14, 14.5], [20, 15]],
  [[0, -4.1], [3, -7.5], [6, -10], [10, -13], [14, -14.5], [20, -15]],
  [[0, -15], [5, -15.5], [10, -13], [12.5, -9], [15.7, -1], [18, 3.3], [20, 4.6]],
  [[0, -14], [9, -13], [12, -9], [15.5, -0.8], [17.5, 5], [20, 7]],
  [[0, 15], [5, 15.5], [10, 13], [12.5, 9], [15.7, -1], [18, -3.3], [20, -4.1]],
  [[0, 14], [9, 13], [12, 9], [15.5, -0.8], [17.5, -5], [20, -7]]
];

const xTicks60 = [0, 10, 20, 30];
const xTicks100 = [0, 5, 10, 15, 20];
const yTicks = [-30, -20, -10, 0, 10, 20, 30];
const panelLabels = ['(a)', '(b)', '(c)', '(d)', '(e)'];
const titleHeads = ['60Gb/s, 6A, τ', '60Gb/s, 6A, τ', '60Gb/s, 8A, τ', '60Gb/s, 4A, τ', '100Gb/s, 8A, τ'];
const titleTails = ['=2.32ps', '=3.42ps', '=2.32ps', '=2.32ps', '=2.32ps'];

const FONT = "'Liberation Serif', 'Times New Roman', Times, serif";

const panels = [
  { traces: tracesA, xMax: 33, xTicks: xTicks60, left: 77.5, top: 53, bottom: 283, labelY: 29, titleX: 200, titleY: 28.5, xLabelX: 209, xLabelY: 340, pad: 3 },
  { traces: tracesB, xMax: 33, xTicks: xTicks60, left: 415.5, top: 53, bottom: 282, labelY: 32.5, titleX: 537, titleY: 28.5, xLabelX: 546, xLabelY: 340, pad: 3 },
  { traces: tracesC, xMax: 33, xTicks: xTicks60, left: 77.5, top: 421, bottom: 645, labelY: 399, titleX: 200, titleY: 398.5, xLabelX: 209, xLabelY: 702, pad: 3 },
  { traces: tracesD, xMax: 33, xTicks: xTicks60, left: 415.5, top: 418, bottom: 645, labelY: 399, titleX: 538, titleY: 395.5, xLabelX: 546, xLabelY: 702, pad: 3 },
  { traces: tracesE, xMax: 20, xTicks: xTicks100, left: 77.5, top: 781, bottom: 1010, labelY: 764, titleX: 207, titleY: 758.5, xLabelX: 204, xLabelY: 1056, pad: 1.5 }
];
const plotW = 248.5;

const svg = d3.select('body').append('svg')
  .attr('width', 660)
  .attr('height', 1065)
  .attr('font-family', FONT);

panels.forEach((p, i) => {
  const x = d3.scaleLinear().domain([0, p.xMax]).range([p.left, p.left + plotW]);
  const y = d3.scaleLinear().domain([-30, 30]).range([p.bottom, p.top]);
  const g = svg.append('g');

  g.append('clipPath').attr('id', 'clip' + i)
    .append('rect')
    .attr('x', p.left).attr('y', p.top)
    .attr('width', plotW).attr('height', p.bottom - p.top);

  const line = d3.line()
    .x(d => x(d[0]))
    .y(d => y(d[1]))
    .curve(d3.curveMonotoneX);

  g.append('g')
    .attr('clip-path', `url(#clip${i})`)
    .selectAll('path')
    .data(p.traces)
    .join('path')
    .attr('d', line)
    .attr('fill', 'none')
    .attr('stroke', '#000')
    .attr('stroke-width', 3);

  // frame (top / right lighter)
  g.append('rect')
    .attr('x', p.left).attr('y', p.top)
    .attr('width', plotW).attr('height', p.bottom - p.top)
    .attr('fill', 'none')
    .attr('stroke', '#666')
    .attr('stroke-width', 1.2);

  // axes
  const styleAxis = a => {
    a.attr('font-family', FONT).attr('font-size', 22);
    a.selectAll('path, line').attr('stroke', '#111').attr('stroke-width', 1.2);
    a.selectAll('text').attr('fill', '#000');
  };

  g.append('g')
    .attr('transform', `translate(0,${p.bottom})`)
    .call(d3.axisBottom(x).tickValues(p.xTicks).tickSize(4).tickSizeOuter(0).tickPadding(p.pad))
    .call(styleAxis);

  g.append('g')
    .attr('transform', `translate(${p.left},0)`)
    .call(d3.axisLeft(y).tickValues(yTicks).tickSize(4).tickSizeOuter(0).tickPadding(5))
    .call(styleAxis);

  // panel label
  g.append('text')
    .attr('x', p.left - 65.5)
    .attr('y', p.labelY)
    .attr('font-size', 22)
    .text(panelLabels[i]);

  // title with subscript
  const t = g.append('text')
    .attr('x', p.titleX)
    .attr('y', p.titleY)
    .attr('text-anchor', 'middle')
    .attr('font-size', 22);
  t.append('tspan').text(titleHeads[i]);
  t.append('tspan').attr('font-size', 15).attr('dy', 6).text('p');
  t.append('tspan').attr('dy', -6).text(titleTails[i]);

  // axis titles
  g.append('text')
    .attr('x', p.xLabelX)
    .attr('y', p.xLabelY)
    .attr('text-anchor', 'middle')
    .attr('font-size', 22)
    .text('Time (ps)');

  g.append('text')
    .attr('transform', `translate(${p.left - 50.5},${(p.top + p.bottom) / 2}) rotate(-90)`)
    .attr('text-anchor', 'middle')
    .attr('font-size', 22)
    .text('Peak-to-peak Power (mW)');
});
</script>
</body>
</html>
